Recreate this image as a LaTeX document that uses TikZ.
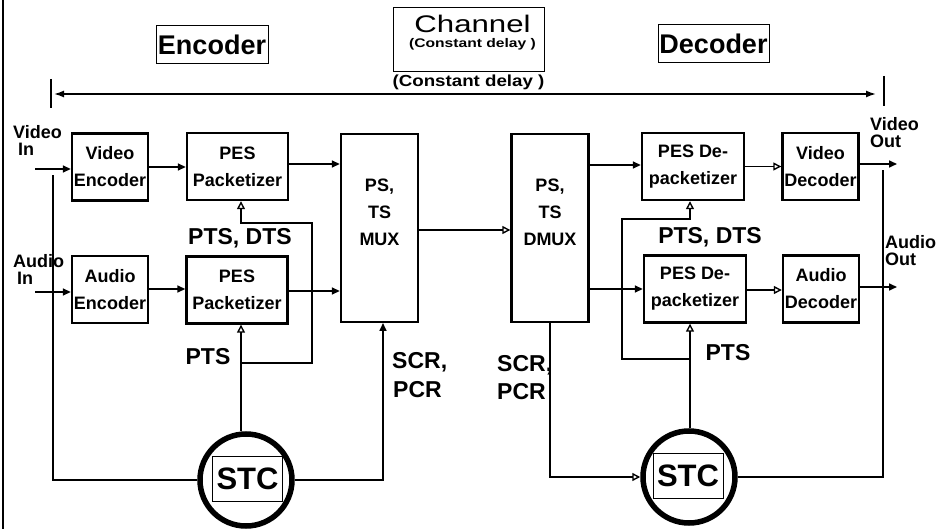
\documentclass[tikz,border=0pt]{standalone}
\usepackage{fontspec}
\setmainfont{Liberation Sans}
\usetikzlibrary{arrows.meta}
\begin{document}
\begin{tikzpicture}[x=1pt,y=-1pt,
  blk/.style={draw, line width=2.4pt, inner sep=0pt, align=center,
    font=\bfseries\fontsize{18}{27}\selectfont},
  encbox/.style={blk, minimum width=76, minimum height=67},
  pesbox/.style={blk, minimum width=101, minimum height=67},
  muxbox/.style={blk, minimum width=77, minimum height=188},
  lbl/.style={inner sep=0pt, align=center, font=\bfseries\fontsize{18}{27}\selectfont},
  side/.style={inner sep=0pt, anchor=north west, align=left, font=\bfseries\fontsize{18}{17}\selectfont},
  tag/.style={inner sep=0pt, font=\bfseries\fontsize{23}{28}\selectfont},
  titlebox/.style={draw, line width=1pt, inner sep=0pt, minimum height=38,
    font=\bfseries\fontsize{27}{27}\selectfont},
  ring/.style={circle, draw, line width=5.5pt, minimum size=92, inner sep=0pt},
  stcbox/.style={draw, line width=0.8pt, inner sep=0pt, minimum width=70, minimum height=45,
    font=\bfseries\fontsize{31}{31}\selectfont},
  conn/.style={line width=1.6pt},
  arr/.style={conn, -{Triangle[length=8pt,width=7pt]}},
  oarr/.style={conn, -{Triangle[open,length=8pt,width=8pt,line width=1.4pt]}}]
\useasboundingbox (0,0) rectangle (940,529);

% left frame edge
\draw[line width=2pt] (2.5,0) -- (2.5,529);

% headings
\node[titlebox, minimum width=112] (enc) at (212,45) {Encoder};
\node[titlebox, minimum width=111] (dec) at (713.5,44) {Decoder};
\node[draw, line width=1pt, minimum width=151, minimum height=64, inner sep=0pt] (chan) at (469,40) {};
\node[inner sep=0pt, anchor=north, align=center, font=\fontsize{12.5}{15}\selectfont] (chantxt) at (472.5,14.5)
  {{\fontsize{24}{24}\selectfont\scalebox{1.3}[1]{Channel}}\\
   {\bfseries\fontsize{12.5}{15}\selectfont\scalebox{1.25}[1]{(Constant delay )}}};
\node[inner sep=0pt] (delay) at (468.5,82) {\bfseries\fontsize{16}{16}\selectfont\scalebox{1.17}[1]{(Constant delay )}};

% end-to-end delay arrow
\coordinate (tlt) at (51,79);  \coordinate (tlb) at (51,108);
\coordinate (trt) at (884,76); \coordinate (trb) at (884,106);
\coordinate (tlm) at (51,94);  \coordinate (trm) at (884,94);
\draw[line width=1.8pt] (tlt) -- (tlb);
\draw[line width=1.8pt] (trt) -- (trb);
\draw[conn, {Latex[length=10pt,width=7pt]}-{Latex[length=10pt,width=7pt]}, shorten <=3pt, shorten >=8pt] (tlm) -- (trm);

% encoder blocks
\node[encbox] (venc) at (110,167) {Video\\Encoder};
\node[encbox] (aenc) at (110,289.5) {Audio\\Encoder};
\node[pesbox] (pes1) at (237.5,166.5) {PES\\Packetizer};
\node[pesbox] (pes2) at (237,290) {PES\\Packetizer};
\node[muxbox] (mux) at (379.5,228) {};
\node[lbl] (muxtxt) at (379.5,212) {PS,\\TS\\MUX};

% decoder blocks
\node[muxbox] (dmux) at (550,228) {};
\node[lbl] (dmuxtxt) at (550,212) {PS,\\TS\\DMUX};
\node[pesbox, minimum width=102] (pesd1) at (693,166.5) {PES De-\\packetizer};
\node[pesbox, minimum width=102] (pesd2) at (695,289) {PES De-\\packetizer};
\node[encbox] (vdec) at (820.5,166.5) {Video\\Decoder};
\node[encbox] (adec) at (821,289) {Audio\\Decoder};

% system time clocks
\node[ring] (stc1) at (246,480) {};
\node[stcbox] (stcb1) at (247.5,478.5) {STC};
\node[ring] (stc2) at (689,477) {};
\node[stcbox] (stcb2) at (688,475.5) {STC};

% input / output labels
\node[side] (vinlbl) at (13,125) {Video\\\hspace*{5pt}In};
\node[side] (ainlbl) at (13,254) {Audio\\\hspace*{4pt}In};
\node[side] (voutlbl) at (870,117) {Video\\Out};
\node[side] (aoutlbl) at (885,235) {Audio\\Out};

% timestamp labels
\node[tag] (td1) at (240,238) {PTS, DTS};
\node[tag] (td2) at (710,237) {PTS, DTS};
\node[tag] (tp1) at (208,357) {PTS};
\node[tag] (tp2) at (728,353) {PTS};
\node[tag, anchor=west] (sc1a) at (392,362) {SCR,};
\node[tag, anchor=west] (sc1b) at (393,390) {PCR};
\node[tag, anchor=west] (sc2a) at (497,365) {SCR,};
\node[tag, anchor=west] (sc2b) at (497,392) {PCR};

% free ends and junctions
\coordinate (vin) at (35,169);
\coordinate (ain) at (35,292);
\coordinate (vout) at (897,164);
\coordinate (aout) at (897,287);
\coordinate (etop) at (53,175);
\coordinate (dtop) at (883,170);
\coordinate (j1) at (241,363);
\coordinate (k1) at (312,223);
\coordinate (m1) at (383,323);
\coordinate (j2) at (690,359);
\coordinate (k2) at (622,219);
\coordinate (dx) at (550,323);

% encoder signal flow
\draw[arr] (vin) -- (vin -| venc.west);
\draw[arr] (ain) -- (ain -| aenc.west);
\draw[arr] (venc.east) -- (venc.east -| pes1.west);
\draw[arr] ([yshift=0.5pt]aenc.east) -- ([yshift=0.5pt]aenc.east -| pes2.west);
\draw[arr] ([yshift=2.5pt]pes1.east) -- ([yshift=2.5pt]pes1.east -| mux.west);
\draw[arr] ([yshift=-1pt]pes2.east) -- ([yshift=-1pt]pes2.east -| mux.west);

% channel
\coordinate (chin) at (419,230);
\draw[oarr] (chin -| mux.east) -- (chin -| dmux.west);

% decoder signal flow
\draw[arr] ([yshift=1.5pt]dmux.east |- pesd1.west) -- ([yshift=1.5pt]pesd1.west);
\draw[arr] (dmux.east |- pesd2.west) -- (pesd2.west);
\draw[oarr] (pesd1.east) -- (pesd1.east -| vdec.west);
\draw[oarr] ([yshift=-1pt]pesd2.east) -- ([yshift=-1pt]pesd2.east -| adec.west);
\draw[arr] (vdec.east |- vout) -- (vout);
\draw[arr] (adec.east |- aout) -- (aout);

% encoder clock distribution
\draw[conn] (stc1.west) -| (etop);
\draw[oarr] (j1 |- stc1.north) -- (j1 |- pes2.south);
\draw[oarr] (j1) -| (k1) -| (j1 |- pes1.south);
\draw[arr] (stc1.east) -| (m1);

% decoder clock recovery
\draw[oarr] (dx) |- (stc2.west);
\draw[oarr] (j2 |- stc2.north) -- (j2 |- pesd2.south);
\draw[oarr] (j2) -| (k2) -| (j2 |- pesd1.south);
\draw[conn] (stc2.east) -| (dtop);
\end{tikzpicture}
\end{document}
